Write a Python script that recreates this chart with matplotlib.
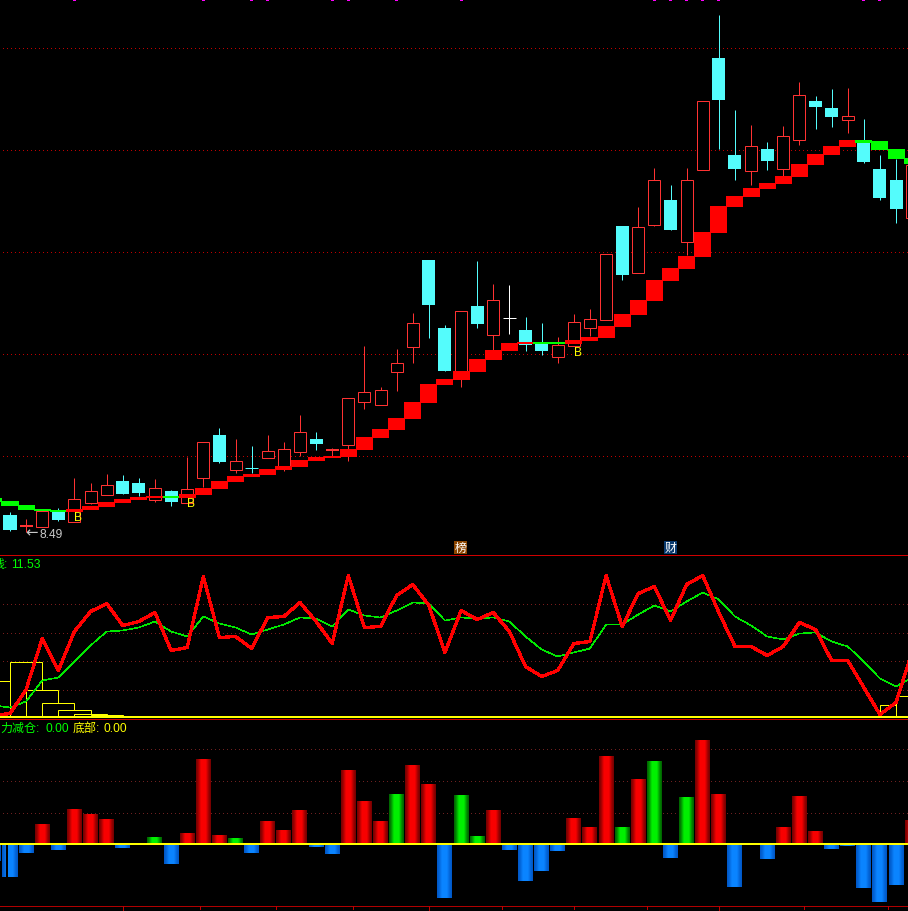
import numpy as np
import matplotlib
matplotlib.use("Agg")
import matplotlib.pyplot as plt
from matplotlib.patches import Rectangle

W, H = 908, 912
BAR_PX = 16.11

# No axis is labelled in the reference, so values are read on the picture's own
# vertical scales: the price panel counts downward from its top edge.
bars = list(range(-1, 57))
candle_kind = [
    'c','c','r','r','c','r','r','r','c','c','r','c','r','r','c','r','c','r','r','r',
    'c','r','r','r','r','r','r','c','c','r','c','r','w','c','c','r','r','r','r','c',
    'r','r','c','r','r','c','c','r','c','r','r','c','c','r','c','c','c','r']
body_top = [513,516,526,512,512,500,492,486,482,484,489,492,490,443,436,462,468,452,450,433,
            440,450,399,393,391,364,324,261,329,312,307,301,318,331,343,346,323,320,255,227,
            228,181,201,181,102,59,156,147,150,137,96,102,109,117,144,170,181,166]
body_bot = [517,531,528,528,521,523,504,496,495,494,501,503,504,479,463,471,468,459,467,453,
            445,452,446,403,406,373,348,306,372,378,325,336,318,346,352,358,347,329,321,276,
            274,226,231,243,171,101,170,172,162,170,141,108,118,121,163,199,210,219]
wick_hi = [513,513,520,510,509,479,484,475,476,479,480,491,458,443,429,440,447,436,443,416,
           433,449,399,347,388,350,314,261,326,312,262,285,286,318,324,338,315,310,255,227,
           208,169,186,169,102,16,111,126,143,127,83,97,90,89,120,156,160,166]
wick_lo = [517,532,533,528,522,523,505,496,495,497,503,507,504,488,464,474,474,459,472,457,
           451,457,462,410,406,392,364,339,372,388,329,353,335,352,356,364,347,337,321,281,
           274,227,231,256,171,150,181,186,171,177,146,130,128,134,164,201,224,219]
band_top = [499,502,506,510,511,510,507,503,500,498,497,497,495,489,482,477,475,470,467,461,
            458,457,450,438,430,419,403,385,380,372,360,351,344,343,343,343,341,338,327,315,
            301,281,269,257,233,207,197,189,184,177,165,155,147,141,141,142,150,159]
band_bot = [503,507,511,512,513,513,511,508,504,501,499,499,499,496,490,483,478,476,471,468,
            462,459,458,451,439,431,420,404,386,381,373,361,352,345,345,345,345,342,339,328,
            316,302,282,270,258,234,208,198,190,185,178,166,156,148,144,151,160,165]
band_green = [-1,0,1,2,3,10,33,34,53,54,55,56]
signal_bars = [4,12,15,16,20,21,24,28,40,41,42,43,44,53,54]
buy_bars = [4,11,35]
buy_levels = [518,504,353]

fast_line = [1,3,27,78,46,85,105,113,91,95,104,66,69,140,79,80,68,99,100,114,95,73,141,89,90,121,132,111,64,
             106,97,104,85,50,40,46,73,75,141,90,123,130,96,132,141,104,70,70,61,70,94,87,56,56,29,2,14,65]
slow_line = [11,9,15,36,39,55,71,85,86,89,95,85,80,100,93,89,82,87,92,99,98,90,107,101,99,106,114,113,96,
             99,98,99,95,80,67,60,64,68,92,92,102,111,105,115,124,117,100,91,80,77,83,84,75,70,55,38,30,39]
step_bars = [-1,0,1,2,3,4,5,54,55]
step_vals = [36,55,27,14,7,3,2,12,21]

flow_vals = [-17,-33,-9,20,-6,35,30,25,-4,1,7,-20,11,85,9,6,-9,23,14,34,-3,-10,74,43,23,50,79,60,-54,49,8,34,
             -6,-37,-27,-7,26,17,88,17,65,83,-14,47,104,50,-43,1,-15,17,48,13,-5,-2,-44,-58,-41,24]
flow_green = [8,9,14,24,28,29,38,40,42,46]

BLACK = "#000000"
CANDLE = {'r': "#ff3232", 'c': "#54fcfc", 'w': "#ffffff"}
PX = 0.72

plt.rcParams['font.family'] = ['Liberation Sans', 'Noto Sans CJK SC', 'DejaVu Sans']
fig = plt.figure(figsize=(W / 100, H / 100), dpi=100, facecolor=BLACK)

def panel(top, bottom):
    ax = fig.add_axes([0, 1 - bottom / H, 1, (bottom - top) / H])
    ax.patch.set_visible(False)
    ax.set_xlim(-10 / BAR_PX, (W - 10) / BAR_PX)
    ax.set_xticks([]); ax.set_yticks([])
    for s in ax.spines.values():
        s.set_visible(False)
    return ax

def grid(ax, levels, color):
    ax.hlines(levels, -7 / BAR_PX, (W - 10) / BAR_PX, colors=color, lw=PX,
              linestyles=(0, (1, 3)), zorder=1, antialiased=False)

x = np.array(bars, dtype=float)
u = 1 / BAR_PX

# ---------- price panel
ax1 = panel(0, 556)
ax1.set_ylim(556, 0)
grid(ax1, [48.5, 150.5, 252.5, 354.5, 456.5], "#c00000")
for i, k in enumerate(candle_kind):
    c = CANDLE[k]
    ax1.vlines(x[i], wick_hi[i], wick_lo[i], colors=c, lw=PX, zorder=2, snap=True)
    h = body_bot[i] - body_top[i]
    if k == 'c' and h > 0:
        ax1.bar(x[i], h, bottom=body_top[i], width=13 * u, color=c, lw=0, zorder=3, antialiased=False)
    elif k == 'r' and h > 2:
        ax1.bar(x[i], h, bottom=body_top[i], width=12 * u, facecolor=BLACK, edgecolor=c, lw=PX,
                zorder=3, snap=True)
    elif k == 'r':
        ax1.bar(x[i], max(h, 1), bottom=body_top[i], width=13 * u, color=c, lw=0, zorder=3, antialiased=False)
    else:
        ax1.hlines(body_top[i] + 0.5, x[i] - 6.5 * u, x[i] + 6.5 * u, colors=c, lw=PX, zorder=3, snap=True)
band_colors = ["#00ff00" if b in band_green else "#ff0000" for b in bars]
ax1.bar(x, np.array(band_bot) - np.array(band_top), bottom=band_top, width=17 * u,
        color=band_colors, lw=0, zorder=4, antialiased=False)
ax1.bar(signal_bars, [2] * len(signal_bars), bottom=0, width=3 * u, color="#ff00ff", lw=0, zorder=5, antialiased=False)
for b, lvl in zip(buy_bars, buy_levels):
    ax1.text(b + 4 * u, lvl, "B", color="#ffff00", fontsize=12 * PX, ha='center', va='center', zorder=6)

# ---------- oscillator panel
ax2 = panel(556, 720)
ax2.set_ylim(-2.5, 161.5)
grid(ax2, [113, 84, 56, 27], "#7a1c1c")
ax2.bar(step_bars, step_vals, width=2, align='edge', facecolor=BLACK, edgecolor="#ffff00", lw=PX,
        zorder=2, snap=True)
ax2.axhline(0, color="#ffff00", lw=2 * PX, zorder=3, antialiased=False)
ax2.plot(x, slow_line, color="#00e800", lw=0.55 * PX, zorder=4, antialiased=False)
ax2.plot(x, fast_line, color="#ff0000", lw=2.3 * PX, zorder=5, antialiased=False)

# ---------- flow panel
ax3 = panel(720, 907)
ax3.set_ylim(-62.5, 124.5)
grid(ax3, [95, 63, 31], "#6f2020")
ramp = np.array([0, .15, .35, .6, .85, 1, 1, 1, 1, 1, .85, .6, .35, .15, 0])
def strips(idx, dark, bright):
    vals = np.array([flow_vals[bars.index(b)] for b in idx])
    d, b = np.array(matplotlib.colors.to_rgb(dark)), np.array(matplotlib.colors.to_rgb(bright))
    for j, t in enumerate(ramp):
        ax3.bar(np.array(idx) + (j - 7) * u, vals, width=u, color=tuple(d + (b - d) * t), lw=0,
                zorder=2, antialiased=False)
red_idx = [b for b, v in zip(bars, flow_vals) if v > 0 and b not in flow_green]
blue_idx = [b for b, v in zip(bars, flow_vals) if v < 0]
strips(red_idx, "#7a0000", "#f80000")
strips(flow_green, "#006800", "#00f000")
strips(blue_idx, "#0058c8", "#0a84ff")
ax3.axhline(0, color="#ffff00", lw=1.5 * PX, zorder=3, antialiased=False)

# ---------- fixed furniture
for row, col in [(556, "#d00000"), (720, "#d00000"), (907, "#b00000")]:
    fig.add_artist(Rectangle((0, 1 - (row + 1) / H), 1, 1 / H, transform=fig.transFigure,
                             facecolor=col, edgecolor='none', antialiased=False))

def ptext(px, py, s, color, size=12, **kw):
    fig.text(px / W, 1 - py / H, s, color=color, fontsize=size * PX, va='center', **kw)

ptext(-8, 565, "线:", "#00ff00")
ptext(11, 565, "11.53", "#00ff00")
ptext(0, 729, "力减仓:", "#00ff00")
ptext(45, 729, "0.00", "#00ff00")
ptext(73, 729, "底部:", "#ffff00")
ptext(103, 729, "0.00", "#ffff00")
ptext(25, 533, "←", "#c8c8c8", size=15, family='DejaVu Sans')
ptext(40, 535, "8.49", "#c8c8c8", size=12)

for px, s, bg in [(454, "榜", "#8b4500"), (664, "财", "#0a3a6e")]:
    fig.add_artist(Rectangle((px / W, 1 - 555 / H), 13 / W, 13 / H, transform=fig.transFigure,
                             facecolor=bg, edgecolor='none'))
    fig.text((px + 6.5) / W, 1 - 548.5 / H, s, color="#ffffff", fontsize=12 * PX, ha='center', va='center')

minor_ticks = [199, 275, 352, 501, 573, 646, 803, 887]
major_ticks = [122, 428, 718]
for px, ln in [(p, 3) for p in minor_ticks] + [(p, 5) for p in major_ticks]:
    fig.add_artist(plt.Line2D([(px + .5) / W, (px + .5) / W], [1 - 907 / H, 1 - (907 + ln) / H], color="#c00000",
                              lw=PX, transform=fig.transFigure, antialiased=False))
for px in major_ticks:
    fig.add_artist(plt.Line2D([(px + 3) / W, (px + 7) / W], [1 - 911.5 / H, 1 - 911.5 / H], color="#a03030",
                              lw=PX, transform=fig.transFigure, antialiased=False))

fig.savefig("out.png", dpi=100, facecolor=BLACK)
